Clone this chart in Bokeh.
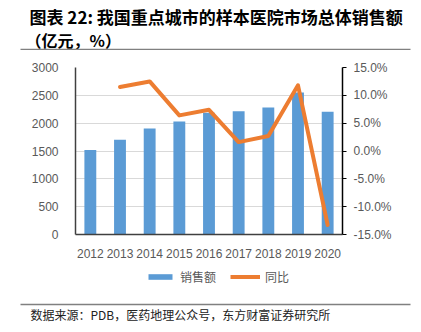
from bokeh.plotting import figure
from bokeh.models import (FactorRange, Range1d, LinearAxis, FixedTicker,
                          PrintfTickFormatter, Legend, LegendItem)
from bokeh.core.properties import value
from bokeh.embed import file_html
from bokeh.resources import INLINE

# ---- data ----
years = ["2012", "2013", "2014", "2015", "2016", "2017", "2018", "2019", "2020"]
sales = [1520, 1700, 1905, 2030, 2185, 2215, 2280, 2550, 2205]      # 亿元
growth_years = ["2013", "2014", "2015", "2016", "2017", "2018", "2019", "2020"]
growth = [11.5, 12.5, 6.4, 7.4, 1.6, 2.7, 11.8, -13.3]               # %
left_ticks = [0, 500, 1000, 1500, 2000, 2500, 3000]
right_ticks = [-15, -10, -5, 0, 5, 10, 15]

title1 = "图表 22: 我国重点城市的样本医院市场总体销售额"
title2 = "（亿元，%）"
source = "数据来源：PDB，医药地理公众号，东方财富证券研究所"
series_names = ["销售额", "同比"]

BAR = "#5B9BD5"
LINE = "#ED7D31"
TICK = "#595959"
CJK = "Noto Sans CJK SC"
LAT = "Liberation Sans"


def blank(h):
    f = figure(width=421, height=h, x_range=Range1d(0, 421), y_range=Range1d(h, 0),
               output_backend="svg", toolbar_location=None,
               x_axis_location=None, y_axis_location=None, min_border=0)
    f.grid.visible = False
    f.outline_line_color = None
    return f


# ---- header ----
head = blank(50)
head.text(x=[29], y=[16], text=[title1], text_font=value(CJK), text_font_style="bold",
          text_font_size="17px", text_color="#000000", text_baseline="middle", text_align="left")
head.text(x=[25], y=[39], text=[title2], text_font=value(CJK), text_font_style="bold",
          text_font_size="16px", text_color="#000000", text_baseline="middle", text_align="left")
head.line(x=[20, 410], y=[49, 49], line_color="#808080", line_width=1.5)

# ---- main chart ----
p = figure(width=421, height=210, x_range=FactorRange(factors=years, range_padding=0),
           y_range=Range1d(0, 3000), output_backend="svg", toolbar_location=None,
           min_border_left=75, min_border_right=79, min_border_top=17, min_border_bottom=25)
p.extra_y_ranges = {"pct": Range1d(-15, 15)}
p.outline_line_color = None
p.xgrid.visible = False
p.ygrid.grid_line_color = "#d9d9d9"
p.ygrid.ticker = FixedTicker(ticks=left_ticks)

bars = p.vbar(x=years, top=sales, width=0.4, fill_color=BAR, line_color=None)
ln = p.line(x=growth_years, y=growth, y_range_name="pct", line_color=LINE, line_width=4,
            line_join="round", line_cap="round")

ya = p.yaxis[0]
ya.ticker = FixedTicker(ticks=left_ticks)
ya.axis_line_color = "#404040"
ya.axis_line_width = 1.5
ya.major_tick_line_color = None
ya.minor_tick_line_color = None
ya.major_label_standoff = 11
ya.major_label_text_color = TICK
ya.major_label_text_font = LAT
ya.major_label_text_font_size = "12px"

xa = p.xaxis[0]
xa.axis_line_color = "#404040"
xa.axis_line_width = 1.5
xa.major_tick_line_color = None
xa.minor_tick_line_color = None
xa.major_label_standoff = 8
xa.major_label_text_color = TICK
xa.major_label_text_font = LAT
xa.major_label_text_font_size = "12px"

ra = LinearAxis(y_range_name="pct", ticker=FixedTicker(ticks=right_ticks),
                formatter=PrintfTickFormatter(format="%.1f%%"))
ra.axis_line_color = "#000000"
ra.axis_line_width = 1.5
ra.major_tick_line_color = "#000000"
ra.major_tick_out = 4
ra.major_tick_in = 0
ra.minor_tick_line_color = None
ra.major_label_standoff = 7
ra.major_label_text_color = TICK
ra.major_label_text_font = LAT
ra.major_label_text_font_size = "12px"
p.add_layout(ra, "right")

# ---- footer: legend + source ----
foot = blank(72)
idx = list(range(len(sales)))
# hidden copies of the two series, used only as legend keys
key_bar = foot.vbar(x=idx, top=sales, width=0.4, fill_color=BAR, line_color=None, visible=False)
key_line = foot.line(x=idx[1:], y=growth, line_color=LINE, line_width=4, visible=False)
legend = Legend(items=[LegendItem(label=series_names[0], renderers=[key_bar]),
                       LegendItem(label=series_names[1], renderers=[key_line])],
                orientation="horizontal", location=(145, 47), click_policy="none",
                glyph_width=30, glyph_height=7, label_height=7, label_standoff=5,
                spacing=14, padding=0, margin=0, border_line_color=None,
                background_fill_alpha=0, label_text_font=CJK,
                label_text_font_size="12px", label_text_color=TICK)
foot.add_layout(legend, "center")
foot.line(x=[20, 410], y=[44, 44], line_color="#808080", line_width=1.5)
foot.text(x=[30], y=[54], text=[source], text_font=value(CJK), text_font_size="12px",
          text_color="#222222", text_baseline="middle", text_align="left")

open("out.html", "w").write(file_html([head, p, foot], INLINE))
